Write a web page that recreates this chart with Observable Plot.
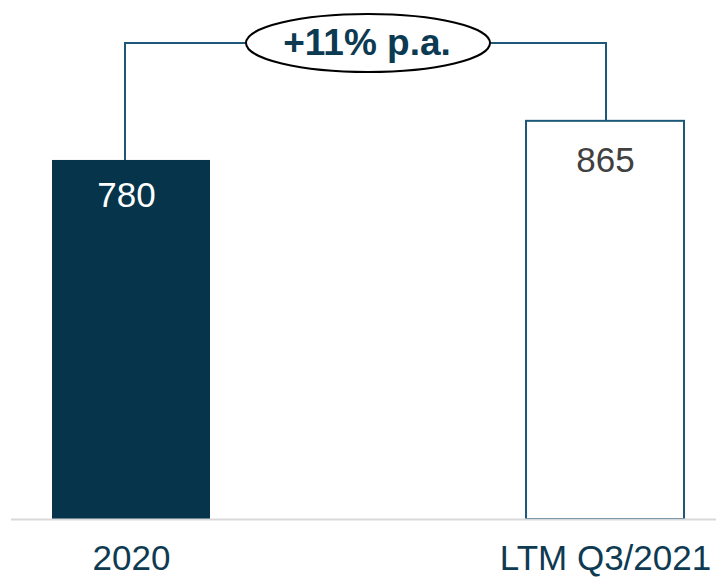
<!DOCTYPE html>
<html>
<head>
<meta charset="utf-8">
<script src="https://cdn.jsdelivr.net/npm/d3@7"></script>
<script src="https://cdn.jsdelivr.net/npm/@observablehq/plot@0.6"></script>
<style>
  html, body { margin: 0; padding: 0; background: #fff; }
  #chart { width: 716px; height: 577px; }
  svg { font-family: "Liberation Sans", Arial, sans-serif; }
</style>
</head>
<body>
<div id="chart"></div>
<script>
// ---- data ----
const categories = ["2020", "LTM Q3/2021"];
const values = [780, 865];
const growthLabel = "+11% p.a.";
const bracketLevel = 1034; // height of the growth bracket, in value units

const data = categories.map((c, i) => ({cat: c, value: values[i]}));

const navy = "#05344b";
const lineBlue = "#1d5878";

function bracketMark(index, scales) {
  const x = scales.x, y = scales.y;
  const bw = typeof x.bandwidth === "function" ? x.bandwidth() : 0;
  const c1 = x(categories[0]) + bw / 2;
  const c2 = x(categories[1]) + bw / 2;
  const yTop = y(bracketLevel);
  const ns = "http://www.w3.org/2000/svg";
  const g = document.createElementNS(ns, "g");
  const path = document.createElementNS(ns, "path");
  path.setAttribute("d",
    `M${c1 - 6},${y(values[0])}V${yTop}H${c2 + 1}V${y(values[1])}`);
  path.setAttribute("fill", "none");
  path.setAttribute("stroke", lineBlue);
  path.setAttribute("stroke-width", 2);
  g.appendChild(path);
  const cx = (c1 + c2) / 2;
  const ell = document.createElementNS(ns, "ellipse");
  ell.setAttribute("cx", cx);
  ell.setAttribute("cy", yTop);
  ell.setAttribute("rx", 122);
  ell.setAttribute("ry", 29);
  ell.setAttribute("fill", "#fff");
  ell.setAttribute("stroke", "#000");
  ell.setAttribute("stroke-width", 2);
  g.appendChild(ell);
  const t = document.createElementNS(ns, "text");
  t.setAttribute("x", cx - 1);
  t.setAttribute("y", yTop + 12);
  t.setAttribute("text-anchor", "middle");
  t.setAttribute("font-size", 37);
  t.setAttribute("font-weight", "bold");
  t.setAttribute("fill", "#0b3a52");
  t.textContent = growthLabel;
  g.appendChild(t);
  return g;
}

const chart = Plot.plot({
  width: 716,
  height: 577,
  marginLeft: 11,
  marginRight: 0,
  marginTop: 0,
  marginBottom: 58,
  style: {fontFamily: "'Liberation Sans', Arial, sans-serif", background: "#fff"},
  x: {domain: categories, range: [52, 684.5], paddingInner: 0.667, paddingOuter: 0, axis: null},
  y: {domain: [0, 1127.5], range: [519, 0], axis: null},
  marks: [
    Plot.barY(data.filter(d => d.cat === categories[0]), {x: "cat", y: "value", fill: navy}),
    Plot.barY(data.filter(d => d.cat === categories[1]), {x: "cat", y: "value", fill: "#fff", stroke: lineBlue, strokeWidth: 2}),
    Plot.ruleY([0], {stroke: "#d9d9d9", strokeWidth: 2}),
    Plot.text(data.filter(d => d.cat === categories[0]), {x: "cat", y: "value", text: d => String(d.value), fill: "#fff", fontSize: 35, lineAnchor: "bottom", dy: 47, dx: -5}),
    Plot.text(data.filter(d => d.cat === categories[1]), {x: "cat", y: "value", text: d => String(d.value), fill: "#404040", fontSize: 35, lineAnchor: "bottom", dy: 51}),
    Plot.text(categories, {x: d => d, frameAnchor: "bottom", text: d => d, fill: "#0e3a52", fontSize: 35, lineAnchor: "bottom", dy: 50}),
    bracketMark
  ]
});
document.getElementById("chart").appendChild(chart);
</script>
</body>
</html>
